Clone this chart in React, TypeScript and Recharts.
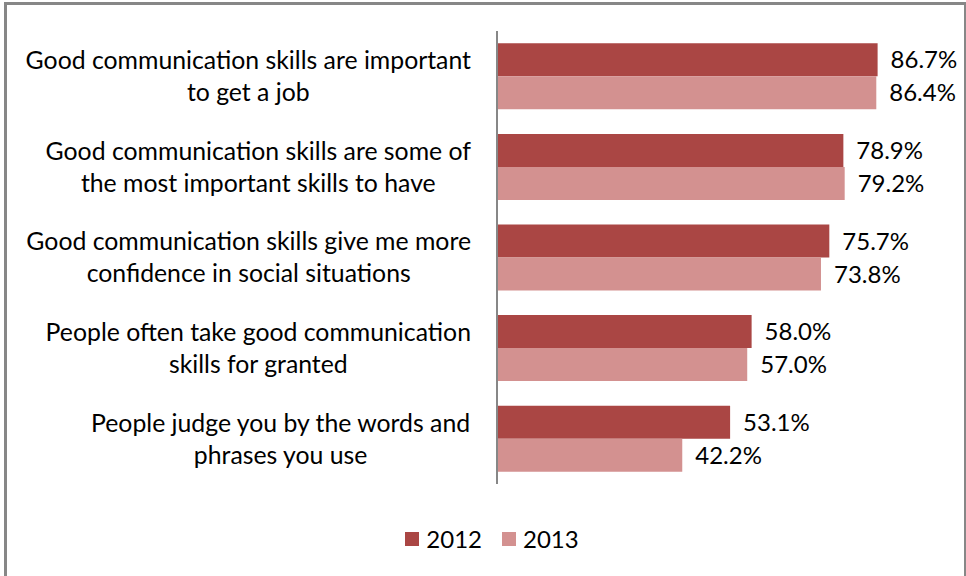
import React from 'react';
import { BarChart, Bar, XAxis, YAxis, LabelList } from 'recharts';

const categories = [
  'Good communication skills are important\nto get a job',
  'Good communication skills are some of\nthe most important skills to have',
  'Good communication skills give me more\nconfidence in social situations',
  'People often take good communication\nskills for granted',
  'People judge you by the words and\nphrases you use',
];
const values2012 = [86.7, 78.9, 75.7, 58.0, 53.1];
const values2013 = [86.4, 79.2, 73.8, 57.0, 42.2];
const seriesNames = ['2012', '2013'];

const data = categories.map((c, i) => ({
  name: c,
  y2012: values2012[i],
  y2013: values2013[i],
}));

const FONT = 'Lato, "Open Sans", sans-serif';
const FONT_SIZE = 24;
const CAT_FONT_SIZE = 24.8;
const DARK = '#AA4644';
const LIGHT = '#D39190';
const LABEL_RIGHT = 471;

let ctx: CanvasRenderingContext2D | null = null;
const measure = (s: string) => {
  if (!ctx) ctx = document.createElement('canvas').getContext('2d');
  if (!ctx) return s.length * 11;
  ctx.font = `${CAT_FONT_SIZE}px Lato`;
  return ctx.measureText(s).width;
};

// category label: two lines, centred on each other, block right-aligned near the axis
const CategoryTick = (props: any) => {
  const { y, payload } = props;
  const lines = String(payload.value).split('\n');
  const w = Math.max(...lines.map(measure));
  const cx = LABEL_RIGHT - w / 2;
  return (
    <g>
      {lines.map((l, i) => (
        <text
          key={i}
          x={cx}
          y={y + (i - (lines.length - 1) / 2) * 32}
          dy="0.36em"
          textAnchor="middle"
          fontFamily={FONT}
          fontSize={CAT_FONT_SIZE}
          fill="#000"
        >
          {l}
        </text>
      ))}
    </g>
  );
};

const fmt = (v: any) => Number(v).toFixed(1) + '%';

export default function App() {
  return (
    <div style={{ position: 'absolute', left: 0, top: 0, width: 966, height: 576, background: '#fff', overflow: 'hidden' }}>
      <div
        style={{
          position: 'absolute',
          left: 4,
          top: 2,
          width: 957,
          height: 600,
          borderLeft: '3px solid #878787',
          borderTop: '3px solid #878787',
          borderRight: '2px solid #878787',
        }}
      />
      <BarChart
        width={966}
        height={576}
        data={data}
        layout="vertical"
        margin={{ top: 31, right: 30, bottom: 92, left: 0 }}
        barCategoryGap="13.6%"
        barGap={0}
      >
        <XAxis type="number" domain={[0, 100]} hide />
        <YAxis
          type="category"
          dataKey="name"
          width={497}
          axisLine={{ stroke: '#878787', strokeWidth: 2 }}
          tickLine={false}
          tick={<CategoryTick />}
          interval={0}
        />
        <Bar dataKey="y2012" name="2012" fill={DARK} isAnimationActive={false}>
          <LabelList dataKey="y2012" position="right" offset={13} formatter={fmt}
            style={{ fontFamily: FONT, fontSize: FONT_SIZE, fill: '#000' }} />
        </Bar>
        <Bar dataKey="y2013" name="2013" fill={LIGHT} isAnimationActive={false}>
          <LabelList dataKey="y2013" position="right" offset={13} formatter={fmt}
            style={{ fontFamily: FONT, fontSize: FONT_SIZE, fill: '#000' }} />
        </Bar>
      </BarChart>
      <div
        style={{
          position: 'absolute',
          top: 524,
          left: 0,
          width: 984,
          display: 'flex',
          justifyContent: 'center',
          fontFamily: FONT,
          fontSize: FONT_SIZE,
          color: '#000',
        }}
      >
        {seriesNames.map((n, i) => (
          <div key={n} style={{ display: 'flex', alignItems: 'center', marginLeft: i ? 20 : 0 }}>
            <div style={{ width: 14, height: 14, background: i ? LIGHT : DARK, marginRight: 7 }} />
            <span>{n}</span>
          </div>
        ))}
      </div>
    </div>
  );
}
